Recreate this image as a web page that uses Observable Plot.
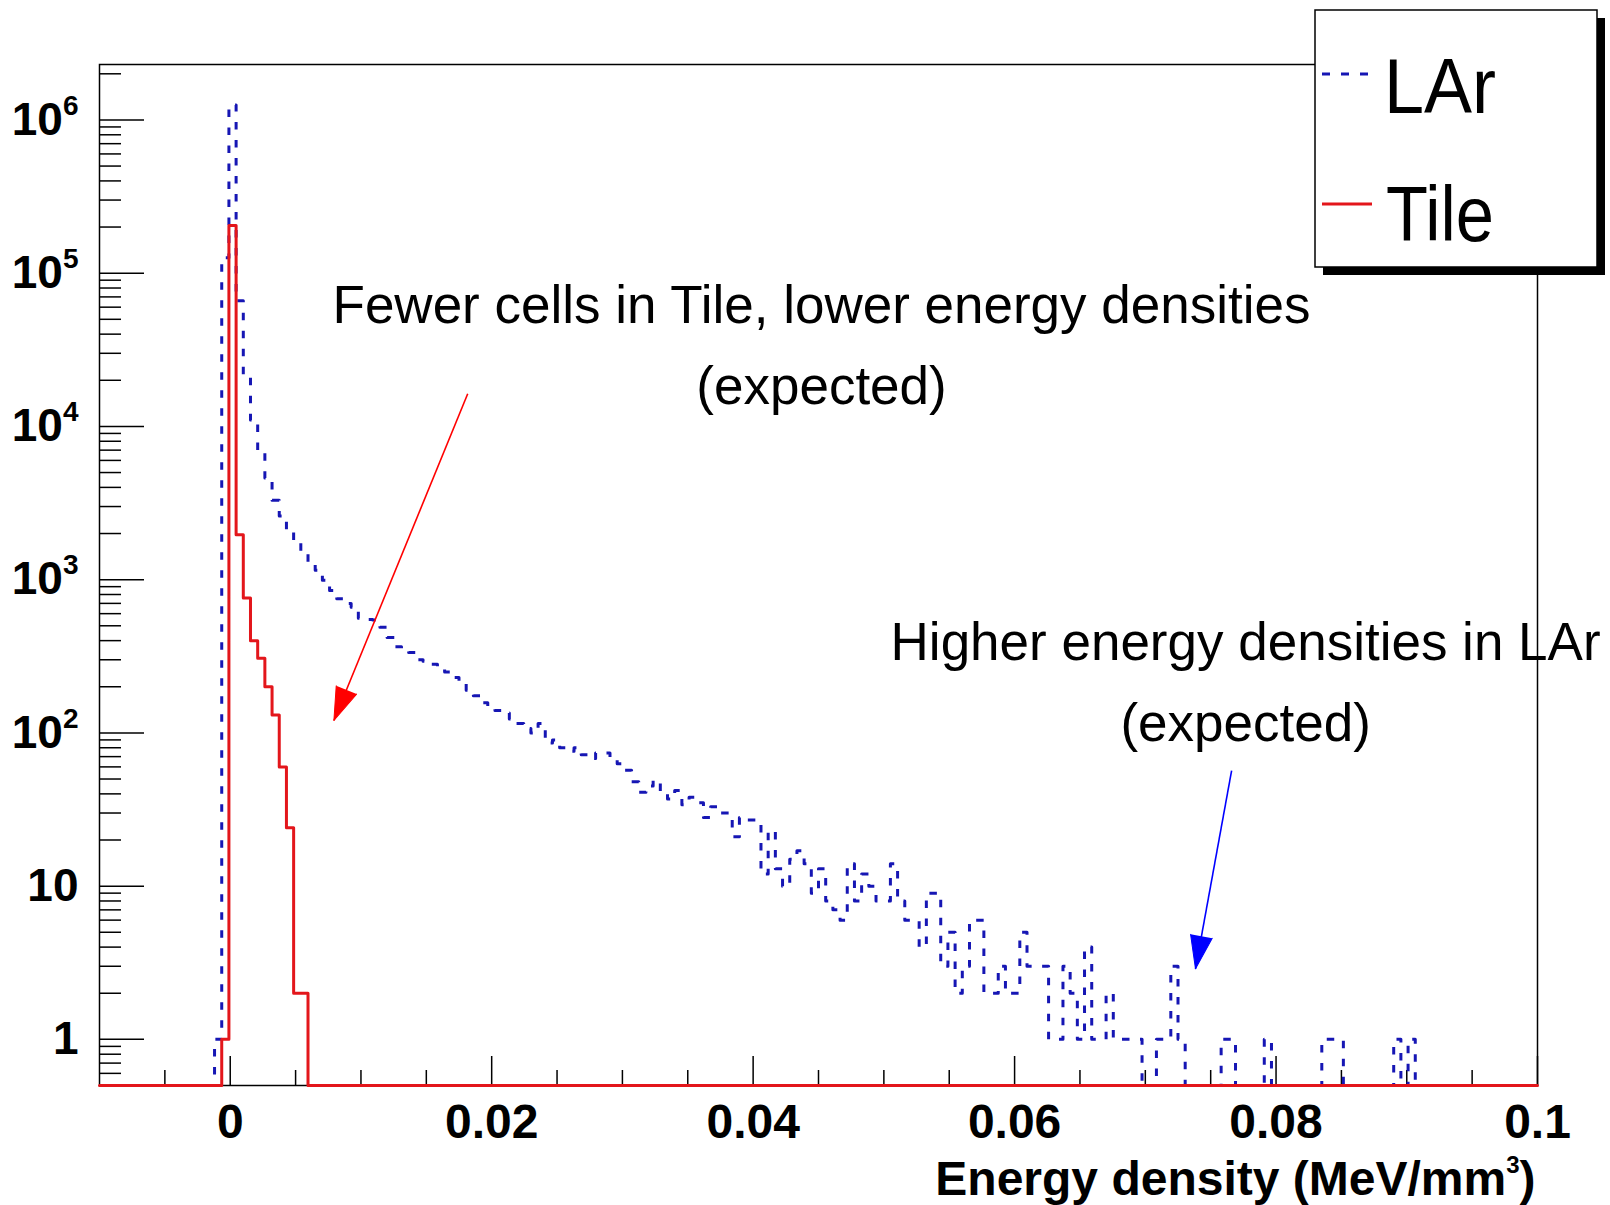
<!DOCTYPE html>
<html><head><meta charset="utf-8">
<script src="https://cdn.jsdelivr.net/npm/d3@7"></script>
<script src="https://cdn.jsdelivr.net/npm/@observablehq/plot@0.6"></script>
<style>
html,body{margin:0;padding:0;background:#fff;}
#chart{position:relative;width:1610px;height:1205px;}
svg{display:block}
</style></head><body><div id="chart"></div>
<script>
// ---- histogram binning (200 bins from -0.01 to 0.1 MeV/mm^3)
const binLo = -0.01, binHi = 0.1, nBins = 200;

// ---- LAr counts per bin
const larCounts = [
  0,0,0,0,0,0,0,0,0,0,0,0,0,0,0,0,1,126000,1250000,66000,
  21300,11000,6850,4600,3300,2600,2100,1750,1500,1300,1150,990,850,750,700,660,560,550,545,490,
  420,365,355,335,300,293,280,270,250,230,210,190,175,157,150,140,135,123,115,107,
  100,115,86,90,80,76,80,72,68,74,74,68,63,57,48,41,45,49,40,37,
  42,34,38,35,28,33,30,30,21,28,27,27,12,23,13,10,15,17,14,9,
  13,8,7,6,14,8,12,10,8,8,14,8,6,6,4,9,9,3,5,2,
  3,6,6,2,2,3,2,2,5,3,3,3,1,1,3,2,1,4,1,1,
  2,1,1,1,1,0,0,1,1,3,1,0,0,0,0,0,1,1,0,0,
  0,0,1,0,0,0,0,0,0,0,1,1,1,0,0,0,0,0,0,0,
  1,0,1,0,0,0,0,0,0,0,0,0,0,0,0,0,0,0,0,0
];

// ---- Tile counts per bin
const tileCounts = [
  0,0,0,0,0,0,0,0,0,0,0,0,0,0,0,0,0,1,205000,1960,
  760,400,307,200,131,60,24,2,2,0,0,0,0,0,0,0,0,0,0,0,
  0,0,0,0,0,0,0,0,0,0,0,0,0,0,0,0,0,0,0,0,
  0,0,0,0,0,0,0,0,0,0,0,0,0,0,0,0,0,0,0,0,
  0,0,0,0,0,0,0,0,0,0,0,0,0,0,0,0,0,0,0,0,
  0,0,0,0,0,0,0,0,0,0,0,0,0,0,0,0,0,0,0,0,
  0,0,0,0,0,0,0,0,0,0,0,0,0,0,0,0,0,0,0,0,
  0,0,0,0,0,0,0,0,0,0,0,0,0,0,0,0,0,0,0,0,
  0,0,0,0,0,0,0,0,0,0,0,0,0,0,0,0,0,0,0,0,
  0,0,0,0,0,0,0,0,0,0,0,0,0,0,0,0,0,0,0,0
];

// ---- axes
const xDomain = [-0.01, 0.1];
const yDomain = [0.5, 2.3e6];
const xMajorTicks = [0, 0.02, 0.04, 0.06, 0.08, 0.1];
const xTickLabels = ["0", "0.02", "0.04", "0.06", "0.08", "0.1"];
const yMajorTicks = [1, 10, 100, 1000, 10000, 100000, 1000000];
const yTickLabels = ["1", "10", "10^2", "10^3", "10^4", "10^5", "10^6"];
const xTitle = "Energy density (MeV/mm^3)";

// ---- legend
const legendLabels = ["LAr", "Tile"];

// ---- annotations (data coordinates)
const annoText = ["Fewer cells in Tile, lower energy densities", "(expected)",
                  "Higher energy densities in LAr", "(expected)"];
const annoX = [0.04523, 0.04523, 0.07767, 0.07767];
const annoY = [60600, 17950, 383, 115];
const arrowX1 = [0.018167, 0.076601];
const arrowY1 = [16325, 56.75];
const arrowX2 = [0.00793, 0.073839];
const arrowY2 = [120.5, 2.887];
const arrowColors = ["#ff0000", "#0000ff"];

// ---- layout / style
const W = 1610, H = 1205;
const mL = 99, mR = 73, mT = 64, mB = 120;
const frameW = W - mL - mR, frameH = H - mT - mB;
const FONT = "'Liberation Sans', Arial, Helvetica, sans-serif";
const larColor = "#1616b4", tileColor = "#e3161b";

// derived tick sets
const yMinorTicks = [];
[0.1, 1, 10, 100, 1000, 10000, 100000, 1000000].forEach(dec => {
  for (let m = 2; m <= 9; m++) {
    const v = m * dec;
    if (v > yDomain[0] && v < yDomain[1]) yMinorTicks.push(v);
  }
});
const xMinorTicks = d3.range(-1, 20).filter(i => i % 4 !== 0).map(i => i * 0.005);

const edges = d3.range(nBins + 1).map(i => binLo + (binHi - binLo) * i / nBins);
function stepPoints(counts) {
  const pts = counts.map((c, i) => ({x: edges[i], y: Math.max(c, yDomain[0])}));
  pts.push({x: edges[nBins], y: Math.max(counts[nBins - 1], yDomain[0])});
  return pts;
}
const larPts = stepPoints(larCounts);
const tilePts = stepPoints(tileCounts);

const xLabelMap = new Map(xMajorTicks.map((d, i) => [d, xTickLabels[i]]));
const yLabelMap = new Map(yMajorTicks.map((d, i) => [d, yTickLabels[i]]));

// replica scales only to orient arrowheads
const sx = d3.scaleLinear(xDomain, [mL, W - mR]);
const sy = d3.scaleLog(yDomain, [H - mB, mT]);
const arrowIdx = arrowX1.map((_, i) => i);
const arrowAngle = arrowIdx.map(i => {
  const dx = sx(arrowX2[i]) - sx(arrowX1[i]);
  const dy = sy(arrowY2[i]) - sy(arrowY1[i]);
  return Math.atan2(dx, -dy) * 180 / Math.PI;
});

const arrowMarks = arrowIdx.flatMap(i => [
  Plot.link([i], {x1: () => arrowX1[i], y1: () => arrowY1[i], x2: () => arrowX2[i], y2: () => arrowY2[i],
    stroke: arrowColors[i], strokeWidth: 1.6}),
  Plot.vector([i], {x: () => arrowX2[i], y: () => arrowY2[i], length: 33, rotate: arrowAngle[i],
    anchor: "end", shape: "spike", r: 11, fill: arrowColors[i], stroke: arrowColors[i], strokeWidth: 1})
]);

const plot = Plot.plot({
  width: W, height: H,
  marginLeft: mL, marginRight: mR, marginTop: mT, marginBottom: mB,
  style: {fontFamily: FONT, background: "white", overflow: "visible"},
  x: {domain: xDomain},
  y: {type: "log", domain: yDomain},
  marks: [
    Plot.frame({stroke: "black", strokeWidth: 1.5}),
    Plot.tickY(yMinorTicks, {y: d => d, insetRight: frameW - 22, stroke: "black", strokeWidth: 1.5}),
    Plot.tickY(yMajorTicks, {y: d => d, insetRight: frameW - 45, stroke: "black", strokeWidth: 1.5}),
    Plot.tickX(xMinorTicks, {x: d => d, insetTop: frameH - 15, stroke: "black", strokeWidth: 1.5}),
    Plot.tickX(xMajorTicks, {x: d => d, insetTop: frameH - 29, stroke: "black", strokeWidth: 1.5}),
    Plot.axisY({ticks: yMajorTicks, tickSize: 0, tickPadding: 21, label: null,
      tickFormat: d => yLabelMap.get(d), fontSize: 46, fontWeight: "bold", fontFamily: FONT}),
    Plot.axisX({ticks: xMajorTicks, tickSize: 0, tickPadding: 18, label: null,
      tickFormat: d => xLabelMap.get(d), fontSize: 48, fontWeight: "bold", fontFamily: FONT}),
    Plot.text([xTitle], {text: d => d, frameAnchor: "bottom-right", dy: 94, dx: -2,
      textAnchor: "end", lineAnchor: "middle", fontSize: 48, fontWeight: "bold", fill: "black"}),
    Plot.line(larPts, {x: "x", y: "y", curve: "step-after", stroke: larColor, strokeWidth: 3,
      strokeDasharray: "7.5,10.5", strokeLinecap: "butt"}),
    Plot.line(tilePts, {x: "x", y: "y", curve: "step-after", stroke: tileColor, strokeWidth: 3}),
    Plot.text(annoText.map((_, i) => i), {x: i => annoX[i], y: i => annoY[i], text: i => annoText[i],
      fontSize: 53, textAnchor: "middle", lineAnchor: "middle", fill: "black"}),
    ...arrowMarks
  ]
});

document.getElementById("chart").appendChild(plot);

// superscript exponents (y tick labels and x title)
const svg = d3.select(plot);
svg.selectAll("text").each(function() {
  const t = d3.select(this);
  if (t.selectAll("tspan").size() > 0) return;
  const s = t.text();
  if (!s.includes("^")) return;
  const isTitle = s === xTitle;
  const m = s.match(/^(.*?)\^(\d+)(.*)$/);
  t.text("");
  t.append("tspan").text(m[1]);
  t.append("tspan").text(m[2]).attr("font-size", isTitle ? 24 : 28).attr("dy", isTitle ? -22 : -20);
  if (m[3]) t.append("tspan").text(m[3]).attr("dy", 22);
});

// legend box (ROOT TLegend style with shadow)
const lg = svg.append("g").attr("font-family", FONT).attr("text-anchor", "start");
lg.append("rect").attr("x", 1323).attr("y", 18).attr("width", 282).attr("height", 257).attr("fill", "black");
lg.append("rect").attr("x", 1315).attr("y", 10).attr("width", 282).attr("height", 257)
  .attr("fill", "white").attr("stroke", "black").attr("stroke-width", 1.5);
lg.append("line").attr("x1", 1322).attr("x2", 1368).attr("y1", 74).attr("y2", 74)
  .attr("stroke", larColor).attr("stroke-width", 3).attr("stroke-dasharray", "8,11");
lg.append("line").attr("x1", 1322).attr("x2", 1372).attr("y1", 204).attr("y2", 204)
  .attr("stroke", tileColor).attr("stroke-width", 3);
lg.append("text").attr("x", 1384).attr("y", 113).attr("font-size", 78).attr("text-anchor", "start")
  .attr("textLength", 112).attr("lengthAdjust", "spacingAndGlyphs").text(legendLabels[0]);
lg.append("text").attr("x", 1386).attr("y", 241).attr("font-size", 78).attr("text-anchor", "start")
  .attr("textLength", 108).attr("lengthAdjust", "spacingAndGlyphs").text(legendLabels[1]);
</script>
</body></html>
